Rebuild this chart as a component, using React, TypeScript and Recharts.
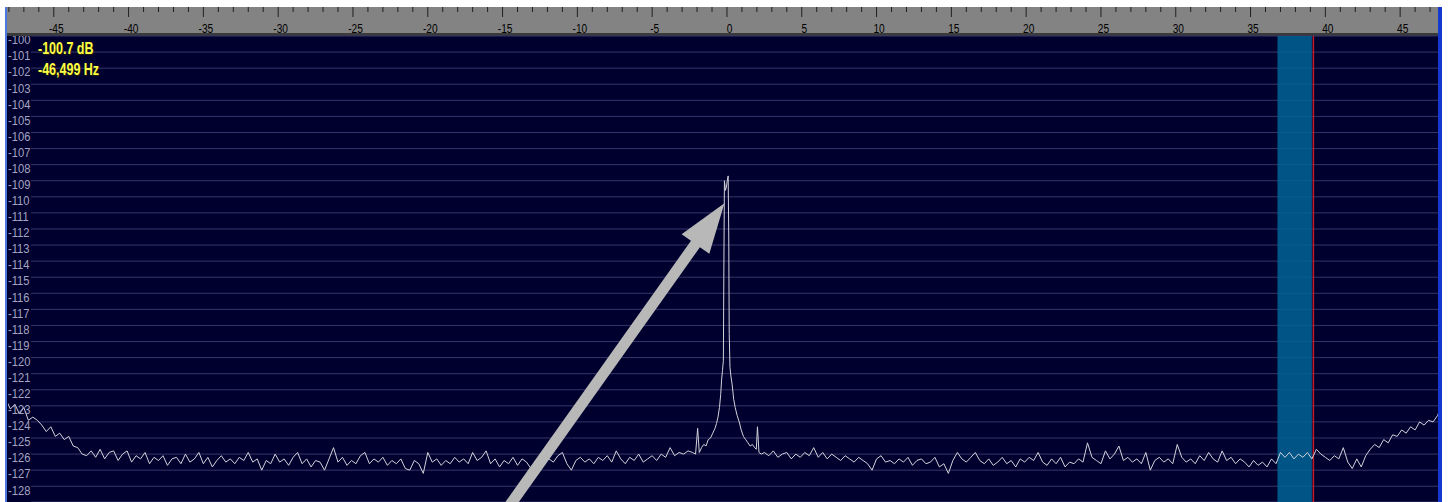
import React from 'react';
import {
  LineChart,
  Line,
  XAxis,
  YAxis,
  CartesianGrid,
  ReferenceArea,
  ReferenceLine,
} from 'recharts';

// spectrum trace in dB, sampled every 0.3 kHz except around the carrier
const STEP = 0.3;

const leftSkirtStart = -48.2;
const leftSkirt = [
  -122.6, -123.2, -122.9, -123.5, -123.1, -123.9, -123.7, -123.9, -124.2, -124.6,
  -124.3, -124.9, -124.7, -125.1, -124.9, -125.5, -125.6, -126.0, -126.1, -125.8,
  -126.2,
];

const leftFloorStart = -41.9;
const leftFloor = [
  -125.7, -126.3, -125.9, -125.8, -126.4, -126.0, -125.8, -126.5, -126.1, -126.3,
  -125.9, -126.6, -126.2, -126.4, -126.1, -126.7, -126.3, -126.2, -126.6, -126.0,
  -126.5, -126.3, -125.9, -126.6, -126.2, -126.8, -126.4, -126.1, -126.5, -126.3,
  -126.6, -126.2, -126.4, -125.9, -126.5, -126.3, -127.0, -126.4, -126.6, -126.0,
  -126.5, -126.3, -126.7, -126.2, -125.9, -126.6, -126.3, -126.8, -126.4, -126.5,
  -127.0, -126.3, -125.6, -126.5, -126.2, -126.7, -126.4, -126.6, -126.1, -125.9,
  -126.6, -126.3, -126.5, -126.2, -126.7, -126.4, -126.6, -126.3, -126.9, -127.0,
  -126.4, -126.6, -127.2, -125.9, -126.5, -126.3, -126.7, -126.4, -126.6, -126.2,
  -126.5, -126.3, -126.6, -125.9, -126.4, -126.2, -125.8, -126.6, -126.3, -126.8,
  -126.4, -126.6, -126.2, -126.7, -126.3, -126.5, -126.9, -126.4, -126.2, -126.6,
  -126.3, -126.5, -126.1, -125.9, -126.6, -127.0, -126.4, -126.2, -126.5, -126.3,
  -126.6, -126.2, -126.4, -126.1, -126.5, -125.8, -126.3, -126.6, -126.2, -126.4,
  -126.0, -126.5, -126.3, -126.1, -126.4, -126.0, -126.2, -125.6, -126.1, -125.9,
  -126.0, -125.8, -125.9,
];

// carrier at 0 kHz
const peakFreqs = [
  -2.1, -1.96, -1.85, -1.7, -1.55, -1.4, -1.25, -1.1, -0.95, -0.8,
  -0.7, -0.6, -0.5, -0.42, -0.36, -0.3, -0.24, -0.21, -0.17, -0.1,
  -0.04, 0.02, 0.08, 0.12, 0.15, 0.2, 0.27, 0.35, 0.45, 0.55,
  0.68, 0.82, 0.95, 1.1, 1.25, 1.4, 1.55, 1.7, 1.85, 1.96,
  2.04, 2.14, 2.3,
];
const peakDb = [
  -126.0, -124.4, -125.9, -125.6, -125.4, -125.5, -125.1, -125.0, -124.7, -124.4,
  -124.1, -123.7, -123.1, -122.3, -121.4, -120.8, -120.2, -115.0, -109.0, -109.6,
  -109.4, -109.0, -108.7, -112.5, -118.5, -120.6, -121.2, -121.7, -122.6, -123.1,
  -123.6, -124.0, -124.5, -124.9, -125.1, -125.3, -125.5, -125.4, -125.6, -125.7,
  -124.3, -125.9, -126.0,
];

const rightFloorStart = 2.5;
const rightFloor = [
  -125.9, -126.1, -125.8, -126.2, -126.0, -125.9, -126.3, -126.0, -126.2, -125.9,
  -126.1, -125.6, -126.2, -125.9, -126.3, -126.0, -126.2, -126.4, -126.1, -126.3,
  -126.5, -126.2, -126.4, -126.6, -127.0, -126.3, -126.1, -126.5, -126.4, -126.6,
  -126.3, -126.5, -126.2, -126.7, -126.4, -126.3, -126.6, -126.5, -126.2, -126.8,
  -126.6, -127.2, -126.4, -125.9, -126.3, -126.5, -126.2, -125.9, -126.4, -126.6,
  -126.3, -126.7, -126.5, -126.2, -126.6, -126.4, -126.8, -126.3, -126.5, -126.2,
  -126.4, -125.9, -126.5, -126.7, -126.3, -126.6, -126.2, -126.8, -126.5, -126.6,
  -126.3, -126.5, -125.3, -126.2, -126.4, -126.6, -125.8, -126.3, -126.0, -125.5,
  -126.4, -126.2, -126.5, -126.3, -126.6, -125.9, -127.0, -126.4, -126.2, -126.5,
  -126.3, -126.6, -125.4, -126.2, -126.5, -126.3, -126.6, -126.1, -126.4, -125.9,
  -126.3, -126.5, -125.8, -126.4, -126.2, -126.6, -126.3, -126.5, -126.8, -126.4,
  -126.7, -126.5, -126.8, -126.3, -126.6, -125.9, -126.2, -125.9, -126.3, -126.0,
  -126.2, -125.9, -126.3, -125.7, -126.0, -126.2, -126.4, -126.1, -126.3, -125.6,
  -126.5, -126.9, -126.3, -126.8, -126.1,
];

const rightSkirtStart = 43.0;
const rightSkirt = [
  -125.7, -125.4, -125.6, -125.1, -125.3, -124.8, -124.9, -124.5, -124.7, -124.3,
  -124.5, -124.0, -124.2, -123.9, -124.0, -123.6, -122.9,
];

const xTicks = Array.from({ length: 96 }, (_, i) => i - 48);
const yTicks = [
  -128, -127, -126, -125, -124, -123, -122, -121, -120, -119, -118, -117, -116, -115,
  -114, -113, -112, -111, -110, -109, -108, -107, -106, -105, -104, -103, -102, -101, -100,
];

const filterBand = [36.8, 39.1];
const tuneMarker = 39.2;
const arrowTail = { f: -14.76, db: -129.5 };
const arrowTip = { f: -0.17, db: -110.4 };

const readoutLevel = '-100.7 dB';
const readoutFreq = '-46,499 Hz';

const seg = (start: number, vals: number[]) =>
  vals.map((v, i) => ({ f: +(start + i * STEP).toFixed(2), db: v }));

const data = [
  ...seg(leftSkirtStart, leftSkirt),
  ...seg(leftFloorStart, leftFloor),
  ...peakFreqs.map((f, i) => ({ f, db: peakDb[i] })),
  ...seg(rightFloorStart, rightFloor),
  ...seg(rightSkirtStart, rightSkirt),
];

const FONT = "'Liberation Sans', Arial, sans-serif";
const PLOT_TOP = 29;

const XTick = (props: any) => {
  const { x, payload } = props;
  const major = payload.value % 5 === 0;
  return (
    <g>
      <line x1={x} x2={x} y1={0} y2={major ? 10 : 5} stroke="#202020" strokeWidth={1} />
      {major && (
        <text
          transform={`translate(${x + 2.5},21) scale(0.78,1)`}
          textAnchor="middle"
          dominantBaseline="central"
          fontSize={13}
          fontFamily={FONT}
          fill="#000"
        >
          {payload.value}
        </text>
      )}
    </g>
  );
};

const YTick = (props: any) => {
  const { y, payload } = props;
  // nested svg clips the label at the top edge of the plot
  return (
    <svg x={0} y={PLOT_TOP} width={40} height={480} overflow="hidden">
      <text
        transform={`translate(1,${y - PLOT_TOP + 4}) scale(0.86,1)`}
        dominantBaseline="central"
        fontSize={13}
        fontFamily={FONT}
        fill="#a4a4c0"
      >
        {payload.value}
      </text>
    </svg>
  );
};

const Arrow = (props: any) => {
  const { x1, y1, x2, y2 } = props;
  const dx = x2 - x1;
  const dy = y2 - y1;
  const len = Math.hypot(dx, dy) || 1;
  const ux = dx / len;
  const uy = dy / len;
  const nx = -uy;
  const ny = ux;
  const headLen = 50;
  const headW = 17;
  const shaftW = 5.5;
  const bx = x2 - ux * headLen;
  const by = y2 - uy * headLen;
  const pts = [
    [x1 + nx * shaftW, y1 + ny * shaftW],
    [bx + nx * shaftW, by + ny * shaftW],
    [bx + nx * headW, by + ny * headW],
    [x2, y2],
    [bx - nx * headW, by - ny * headW],
    [bx - nx * shaftW, by - ny * shaftW],
    [x1 - nx * shaftW, y1 - ny * shaftW],
  ];
  return <polygon points={pts.map((p) => p.join(',')).join(' ')} fill="#b8b8b8" />;
};

export default function App() {
  return (
    <div
      style={{
        position: 'absolute',
        left: 0,
        top: 0,
        width: 1449,
        height: 502,
        background: '#fff',
        overflow: 'hidden',
      }}
    >
      <div
        style={{
          position: 'absolute',
          left: 5,
          top: 7,
          width: 1431,
          height: 495,
          borderLeft: '2px solid #4a78e0',
          borderRight: '4px solid #1438d0',
          background: '#00002e',
        }}
      >
        <div style={{ position: 'absolute', left: 0, top: 0, width: 1431, height: 26, background: '#838383' }} />
        <div style={{ position: 'absolute', left: 0, top: 26, width: 1431, height: 3, background: '#3a3a3a' }} />
        <div style={{ position: 'absolute', left: 0, top: 0 }}>
          <LineChart width={1431} height={495} data={data} margin={{ top: 0, right: 0, left: 0, bottom: 0 }}>
            <CartesianGrid
              vertical={false}
              fill="#00002e"
              horizontal={(p: any) => (
                <line
                  key={`h-${p.y1}`}
                  x1={p.x1 + 23}
                  y1={p.y1}
                  x2={p.x2}
                  y2={p.y2}
                  stroke="#35356c"
                  strokeWidth={1}
                />
              )}
            />
            <XAxis
              dataKey="f"
              type="number"
              orientation="top"
              domain={[-48.06, 47.53]}
              ticks={xTicks}
              interval={0}
              height={29}
              axisLine={false}
              tickLine={false}
              tick={<XTick />}
              allowDataOverflow
            />
            <YAxis
              type="number"
              domain={[-128.98, -100]}
              ticks={yTicks}
              interval={0}
              width={1}
              axisLine={false}
              tickLine={false}
              tick={<YTick />}
              allowDataOverflow
            />
            <ReferenceArea
              x1={filterBand[0]}
              x2={filterBand[1]}
              fill="#006395"
              fillOpacity={0.85}
              stroke="none"
              ifOverflow="hidden"
            />
            <ReferenceLine x={tuneMarker} stroke="#c0202c" strokeWidth={1.5} />
            <Line
              type="linear"
              dataKey="db"
              stroke="#d2d2da"
              strokeWidth={1}
              dot={false}
              isAnimationActive={false}
            />
            <ReferenceLine
              segment={[
                { x: arrowTail.f, y: arrowTail.db },
                { x: arrowTip.f, y: arrowTip.db },
              ]}
              ifOverflow="visible"
              shape={<Arrow />}
            />
          </LineChart>
        </div>
        <div
          style={{
            position: 'absolute',
            left: 31,
            top: 31,
            fontFamily: FONT,
            fontWeight: 'bold',
            fontSize: 16,
            lineHeight: '21px',
            color: '#ffff48',
            textShadow: '1px 1px 0 #202000',
            transform: 'scaleX(0.78)',
            transformOrigin: 'left top',
            whiteSpace: 'nowrap',
          }}
        >
          <div>{readoutLevel}</div>
          <div>{readoutFreq}</div>
        </div>
      </div>
    </div>
  );
}
